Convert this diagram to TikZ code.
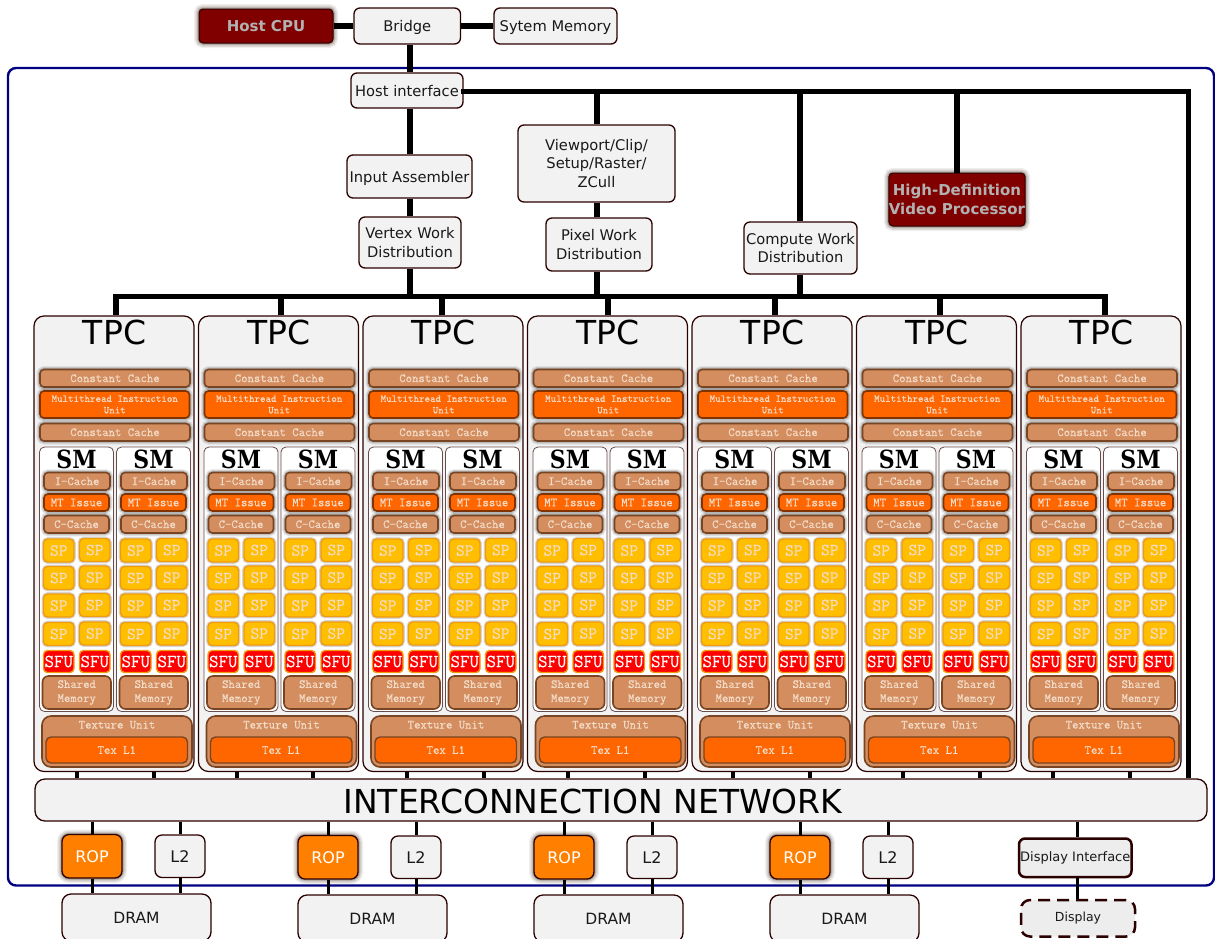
\documentclass[tikz,border=0pt]{standalone}
\usepackage{fontspec}
\setmainfont{DejaVu Sans}
\newfontfamily\smfont{DejaVu Serif}[FakeStretch=0.88]
\newfontfamily\courf{Latin Modern Mono}[FakeBold=0.35]
\usetikzlibrary{calc}
\definecolor{edge}{HTML}{2B0000}
\definecolor{boxfill}{HTML}{F2F2F2}
\definecolor{navyl}{HTML}{000080}
\definecolor{maroonf}{HTML}{800000}
\definecolor{copperf}{HTML}{D38D5F}
\definecolor{coppere}{HTML}{784421}
\definecolor{orangef}{HTML}{FF6600}
\definecolor{orangee}{HTML}{803300}
\definecolor{ropf}{HTML}{FF7F00}
\definecolor{spf}{HTML}{FFBF00}
\definecolor{spe}{HTML}{F09A10}
\definecolor{lighttxt}{HTML}{F4DCC8}
\definecolor{glowc}{HTML}{2B1400}
\tikzset{
  glow/.style={preaction={draw=glowc,draw opacity=.07,line width=10pt},preaction={draw=glowc,draw opacity=.09,line width=7.5pt},preaction={draw=glowc,draw opacity=.12,line width=5pt},preaction={draw=glowc,draw opacity=.18,line width=3pt}},
  softglow/.style={preaction={draw=black,draw opacity=.07,line width=7pt},preaction={draw=black,draw opacity=.10,line width=5pt},preaction={draw=black,draw opacity=.12,line width=3.2pt}},
  tightglow/.style={preaction={draw=black,draw opacity=.16,line width=3.6pt}},
  plainbox/.style={draw=edge,fill=boxfill,line width=1.3pt,rounded corners=6pt,inner sep=0pt,align=center,font=\fontsize{14.7}{18.5}\selectfont,text=black!90},
  darkbox/.style={draw=edge,fill=maroonf,line width=1pt,rounded corners=4pt,inner sep=0pt,align=center,font=\fontsize{15}{18.5}\selectfont\bfseries,text=black!30,glow},
  tpcbox/.style={draw=edge,fill=boxfill,line width=1.2pt,rounded corners=10pt,inner sep=0pt},
  smbox/.style={draw=edge!70!white,fill=white,line width=.8pt,rounded corners=5pt,inner sep=0pt},
  monot/.style={inner sep=0pt,align=center,text=lighttxt,font=\courf\fontsize{12.4}{11.5}\selectfont},
  cachebox/.style={monot,draw=coppere,fill=copperf,line width=1.6pt,rounded corners=4pt,softglow},
  mibox/.style={monot,draw=orangee,fill=orangef,line width=1.6pt,rounded corners=4pt,softglow,font=\courf\fontsize{10.45}{11.5}\selectfont},
  spbox/.style={monot,draw=spe,fill=spf,line width=1.4pt,rounded corners=4pt,tightglow,font=\courf\fontsize{17}{15}\selectfont},
  sfubox/.style={monot,draw=spe,fill=red,line width=1.4pt,rounded corners=4pt,text=white,font=\courf\fontsize{18.4}{16}\selectfont},
  shmbox/.style={monot,draw=coppere,fill=copperf,line width=1.6pt,rounded corners=6pt,font=\courf\fontsize{12.4}{14}\selectfont},
  texubox/.style={monot,draw=coppere,fill=copperf,line width=1.6pt,rounded corners=9pt},
  texlbox/.style={monot,draw=coppere,fill=orangef,line width=1.4pt,rounded corners=5pt},
  labeltxt/.style={inner sep=0pt},
  thickc/.style={draw=black,line width=5.5pt},
  midc/.style={draw=black,line width=4.5pt},
  thinc/.style={draw=black,line width=3pt},
}
\newcommand{\bx}[6]{\node[#1,minimum width={(#4)-(#2)},minimum height={(#5)-(#3)}] (#6) at ({((#2)+(#4))/2},{((#3)+(#5))/2})}
\newcommand{\vc}[4]{\draw[#1] (#2,0 |- #3) -- (#2,0 |- #4);}
\begin{document}
\begin{tikzpicture}[x=1pt,y=-1pt]
\path[use as bounding box,fill=white] (0,0) rectangle (1215,938);
% outer frame
\bx{draw=navyl,line width=2.4pt,rounded corners=8pt,inner sep=0pt}{8}{68}{1214}{885.5}{frame} {};
% top row
\bx{darkbox}{199}{9}{333}{43}{cpu} {Host CPU};
\bx{plainbox,text depth=0pt}{354}{8}{460.5}{44}{bridge} {Bridge};
\bx{plainbox,text depth=0pt}{494}{8}{617}{44}{sysmem} {Sytem Memory};
\bx{plainbox,text depth=0pt}{351}{73}{463}{108}{hostif} {Host interface};
\bx{plainbox,text depth=0pt}{347}{155}{472}{198}{ia} {Input Assembler};
\bx{plainbox}{359}{217}{461}{268}{vwd} {Vertex Work\\Distribution};
\bx{plainbox}{518}{125}{675}{202}{vp} {Viewport/Clip/\\Setup/Raster/\\ZCull};
\bx{plainbox}{546}{218}{652}{271}{pwd} {Pixel Work\\Distribution};
\bx{plainbox}{744}{222}{857}{274}{cwd} {Compute Work\\Distribution};
\bx{darkbox}{890}{173}{1024}{226}{hdvp} {High-Definition\\Video Processor};
% interconnect
\bx{plainbox,rounded corners=10pt}{35}{779}{1207}{821}{icn} {};
\node[labeltxt,font=\fontsize{33}{33}\selectfont,text=black] (icnt) at (593,801) {INTERCONNECTION NETWORK};
% TPC blocks
\foreach \i in {0,...,6}{
  \pgfmathsetmacro{\ox}{164.5*\i}
  \begin{scope}[shift={(\ox,0)}]
    \bx{tpcbox}{34}{316}{194}{771.5}{tpc\i} {};
    \node[labeltxt,font=\fontsize{33}{33}\selectfont,text=black] (tpct\i) at (114.5,332) {TPC};
    \bx{cachebox}{40}{369.5}{190}{387}{cca\i} {Constant Cache};
    \bx{mibox}{40}{391}{189.5}{418}{miu\i} {Multithread Instruction\\Unit};
    \bx{cachebox}{40}{423.5}{190}{441}{ccb\i} {Constant Cache};
    \foreach \m in {0,1}{
      \pgfmathsetmacro{\mx}{77*\m}
      \begin{scope}[shift={(\mx,0)}]
        \bx{smbox}{39.5}{447}{113.5}{711.5}{sm\i\m} {};
        \node[labeltxt,font=\smfont\bfseries\fontsize{25}{25}\selectfont,text=black] (smt\i\m) at (76.5,459.5) {SM};
        \bx{cachebox}{44}{472.5}{110}{490}{ic\i\m} {I-Cache};
        \bx{mibox,font=\courf\fontsize{12.5}{12.4}\selectfont}{44}{494}{109}{511}{mt\i\m} {MT Issue};
        \bx{cachebox}{44}{515.5}{109}{533}{cc\i\m} {C-Cache};
        \foreach \ry [count=\r] in {550.5,578,605.5,634}{
          \bx{spbox}{43.5}{\ry-11.5}{74}{\ry+11.5}{spa\i\m\r} {SP};
          \bx{spbox}{79.5}{\ry-12}{110}{\ry+11}{spb\i\m\r} {SP};
        }
        \bx{sfubox}{43.5}{650.5}{74}{672.5}{sfa\i\m} {SFU};
        \bx{sfubox}{79.5}{650.5}{110}{672.5}{sfb\i\m} {SFU};
        \bx{shmbox}{42.5}{676}{111}{709}{shm\i\m} {Shared\\Memory};
      \end{scope}
    }
    \bx{texubox,text depth=34pt,text height=8pt}{42}{716}{192}{767}{tu\i} {Texture Unit};
    \bx{texlbox}{46}{737}{187.5}{763}{tl\i} {Tex L1};
  \end{scope}
}
% bottom row
\foreach \n/\ox/\oy in {1/0/0,2/236/1,3/472/1,4/708/1}{
  \bx{plainbox,fill=ropf,text=white,font=\fontsize{16}{16}\selectfont,glow,rounded corners=7pt}{62+\ox}{834.5+\oy}{122+\ox}{878+\oy}{rop\n} {ROP};
  \bx{plainbox,font=\fontsize{16}{16}\selectfont,rounded corners=7pt}{155+\ox}{835+\oy}{205+\ox}{877.5+\oy}{ltwo\n} {L2};
  \bx{plainbox,font=\fontsize{15.5}{16}\selectfont,rounded corners=9pt}{62+\ox}{894+\oy}{211+\ox}{941+\oy}{dram\n} {DRAM};
}
\bx{plainbox,line width=2.5pt,fill=gray!14,font=\fontsize{13}{16}\selectfont}{1019}{838.5}{1131.5}{877}{dispif} {Display Interface};
\bx{plainbox,line width=2.5pt,dash pattern=on 12pt off 7pt,fill=gray!14,font=\fontsize{12.5}{16}\selectfont,rounded corners=9pt}{1021}{900}{1135}{936.5}{disp} {Display};
% connectors
\draw[thickc] (cpu.east |- 0,26) -- (bridge.west |- 0,26);
\draw[thickc] (bridge.east |- 0,26) -- (sysmem.west |- 0,26);
\vc{thickc}{410}{bridge.south}{hostif.north}
\vc{thickc}{410}{hostif.south}{ia.north}
\vc{thickc}{410}{ia.south}{vwd.north}
\coordinate (busl) at (116,296.3);
\coordinate (busr) at (1105,296.3);
\draw[thickc,line cap=rect] (busl) -- (busr);
\vc{thickc}{410}{vwd.south}{busl}
\vc{thickc}{597}{pwd.south}{busl}
\vc{thickc}{800}{cwd.south}{busl}
\vc{thickc}{597}{vp.south}{pwd.north}
\coordinate (hir) at (1188.5,91.5);
\draw[thickc,line cap=rect] (hostif.east |- hir) -- (hir);
\draw[thickc] (hir) -- (hir |- icn.north);
\vc{thickc}{597}{hir}{vp.north}
\vc{thickc}{800}{hir}{cwd.north}
\vc{thickc}{957}{hir}{hdvp.north}
\foreach \i/\x in {0/116,1/281,2/442,3/608,4/775,5/940,6/1105}{
  \vc{thickc}{\x}{busl}{tpc\i.north}
}
\foreach \i/\xa/\xb in {0/77/154,1/237/313,2/407/484,3/568/645,4/733/810,5/903/980,6/1053/1130}{
  \vc{midc}{\xa}{tpc\i.south}{icn.north}
  \vc{midc}{\xb}{tpc\i.south}{icn.north}
}
\foreach \n/\ox in {1/0,2/236,3/472,4/708}{
  \pgfmathsetmacro{\xa}{92+\ox}
  \pgfmathsetmacro{\xb}{180+\ox}
  \vc{thinc}{\xa}{icn.south}{rop\n.north}
  \vc{thinc}{\xb}{icn.south}{ltwo\n.north}
  \vc{thinc}{\xa}{rop\n.south}{dram\n.north}
  \vc{thinc}{\xb}{ltwo\n.south}{dram\n.north}
}
\vc{thinc}{1077}{icn.south}{dispif.north}
\vc{thinc}{1077}{dispif.south}{disp.north}
\end{tikzpicture}
\end{document}
